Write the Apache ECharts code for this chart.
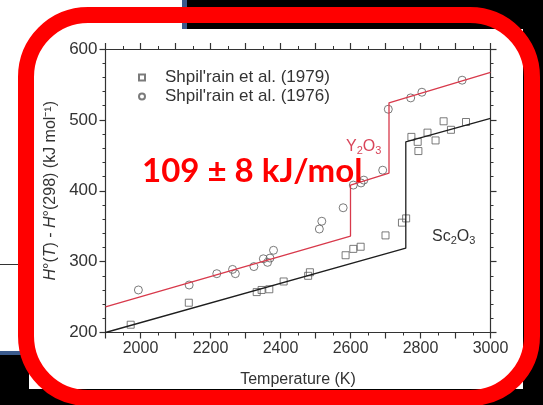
<!DOCTYPE html>
<html>
<head>
<meta charset="utf-8">
<script src="https://cdn.jsdelivr.net/npm/echarts@6/dist/echarts.min.js"></script>
<style>
  html, body { margin: 0; padding: 0; background: #fff; }
  #chart { width: 543px; height: 405px; }
</style>
</head>
<body>
<div id="chart"></div>
<script>
// Shpil'rain et al. (1979): Sc2O3 enthalpy increments
const sc1979T = [1972, 2138, 2332, 2346, 2368, 2409, 2479, 2484, 2586, 2608, 2629, 2700, 2747, 2759, 2774, 2792, 2794, 2820, 2843, 2866, 2887, 2930];
const sc1979H = [211, 242, 257, 260, 261, 272, 280, 285, 309, 318, 321, 337, 355, 361, 476, 469, 456, 482, 471, 498, 486, 497];

// Shpil'rain et al. (1976): Y2O3 enthalpy increments
const y1976T = [1994, 2139, 2218, 2263, 2271, 2324, 2351, 2363, 2370, 2380, 2511, 2518, 2579, 2608, 2630, 2638, 2692, 2708, 2772, 2804, 2919];
const y1976H = [260, 267, 283, 289, 283, 293, 304, 299, 305, 316, 346, 357, 376, 408, 411, 415, 429, 515, 531, 539, 556];

// Assessed enthalpy curves, with the transition and melting jumps
const y2o3FitT = [1900, 2600, 2600, 2710, 2710, 3000];
const y2o3FitH = [236, 336, 408, 425, 524, 567];
const sc2o3FitT = [1900, 2758, 2758, 3000];
const sc2o3FitH = [200, 319, 469, 502];

// Axis tick labels
const tempTicks = [2000, 2200, 2400, 2600, 2800, 3000];
const enthalpyTicks = [200, 300, 400, 500, 600];

const pairs = (xs, ys) => xs.map((x, i) => [x, ys[i]]);

const FONT = "'Liberation Sans', Arial, sans-serif";
const AXIS_COLOR = '#333';
const MARK_COLOR = '#5a5a5a';

const axisCommon = {
  axisLine: { show: true, onZero: false, lineStyle: { color: AXIS_COLOR, width: 1.2 } },
  axisTick: { show: true, inside: false, length: 6, lineStyle: { color: AXIS_COLOR, width: 1.2 } },
  minorTick: { show: true, length: 3, lineStyle: { color: AXIS_COLOR, width: 1 } },
  splitLine: { show: false }
};

const chart = echarts.init(document.getElementById('chart'), null, { renderer: 'canvas' });

chart.setOption({
  backgroundColor: '#fff',
  animation: false,
  textStyle: { fontFamily: FONT },
  grid: { left: 105.5, right: 52.5, top: 49, bottom: 72.5, containLabel: false },
  legend: {
    orient: 'vertical',
    left: 133,
    top: 64,
    itemWidth: 6,
    itemHeight: 6,
    itemGap: 2,
    data: ["Shpil'rain et al. (1979)", "Shpil'rain et al. (1976)"],
    textStyle: { fontSize: 17, color: '#333', fontFamily: FONT, lineHeight: 17, padding: [0, 0, 0, 15] }
  },
  xAxis: [
    Object.assign({}, axisCommon, {
      type: 'value', position: 'bottom', min: 1900, max: 3000, interval: 100,
      minorTick: Object.assign({}, axisCommon.minorTick, { splitNumber: 2 }),
      axisLabel: {
        customValues: tempTicks, fontSize: 16, color: AXIS_COLOR, margin: 8, fontFamily: FONT,
        formatter: v => String(v)
      },
      name: 'Temperature (K)', nameLocation: 'middle', nameGap: 39,
      nameTextStyle: { fontSize: 16, color: AXIS_COLOR, fontFamily: FONT }
    }),
    Object.assign({}, axisCommon, {
      type: 'value', position: 'top', min: 1900, max: 3000, interval: 100,
      minorTick: Object.assign({}, axisCommon.minorTick, { splitNumber: 2 }),
      axisLabel: { show: false }
    })
  ],
  yAxis: [
    Object.assign({}, axisCommon, {
      type: 'value', position: 'left', min: 200, max: 600, interval: 100,
      minorTick: Object.assign({}, axisCommon.minorTick, { splitNumber: 5 }),
      axisLabel: {
        customValues: enthalpyTicks, fontSize: 17, color: AXIS_COLOR, margin: 8, fontFamily: FONT,
        formatter: v => String(v)
      },
      name: '{i|H}°({i|T}) - {i|H}°(298) (kJ mol⁻¹)',
      nameLocation: 'middle', nameRotate: 90, nameGap: 46,
      nameTextStyle: {
        fontSize: 16, color: AXIS_COLOR, fontFamily: FONT,
        rich: { i: { fontStyle: 'italic', fontSize: 16, color: AXIS_COLOR, fontFamily: FONT } }
      }
    }),
    Object.assign({}, axisCommon, {
      type: 'value', position: 'right', min: 200, max: 600, interval: 100,
      minorTick: Object.assign({}, axisCommon.minorTick, { splitNumber: 5 }),
      axisLabel: { show: false }
    })
  ],
  series: [
    {
      name: 'Y2O3 fit', type: 'line', data: pairs(y2o3FitT, y2o3FitH),
      showSymbol: false, symbol: 'none', silent: true,
      lineStyle: { color: '#d8394b', width: 1.3 }
    },
    {
      name: 'Sc2O3 fit', type: 'line', data: pairs(sc2o3FitT, sc2o3FitH),
      showSymbol: false, symbol: 'none', silent: true,
      lineStyle: { color: '#1e1e1e', width: 1.3 }
    },
    {
      name: "Shpil'rain et al. (1979)", type: 'scatter', data: pairs(sc1979T, sc1979H),
      symbol: 'rect', symbolSize: 7,
      itemStyle: { color: 'rgba(255,255,255,0)', borderColor: MARK_COLOR, borderWidth: 1 }
    },
    {
      name: "Shpil'rain et al. (1976)", type: 'scatter', data: pairs(y1976T, y1976H),
      symbol: 'circle', symbolSize: 8,
      itemStyle: { color: 'rgba(255,255,255,0)', borderColor: MARK_COLOR, borderWidth: 1 }
    }
  ],
  graphic: [
    // slide backdrop around the figure
    { type: 'rect', z: -10, shape: { x: 186, y: 0, width: 357, height: 29 }, style: { fill: '#000' } },
    { type: 'rect', z: -10, shape: { x: 182, y: 0, width: 5, height: 29 }, style: { fill: '#3b5a8c' } },
    { type: 'rect', z: -10, shape: { x: 523, y: 0, width: 20, height: 405 }, style: { fill: '#000' } },
    { type: 'rect', z: -10, shape: { x: 0, y: 389, width: 543, height: 16 }, style: { fill: '#000' } },
    { type: 'rect', z: -10, shape: { x: 0, y: 355, width: 29, height: 50 }, style: { fill: '#000' } },
    { type: 'rect', z: -10, shape: { x: 0, y: 351, width: 29, height: 4 }, style: { fill: '#3b5a8c' } },
    { type: 'line', z: -10, shape: { x1: 0, y1: 264.5, x2: 20, y2: 264.5 }, style: { stroke: '#333', lineWidth: 1 } },
    // compound labels
    {
      type: 'text', z: 50, x: 346, y: 138,
      style: {
        text: '{a|Y}{s|2}{a|O}{s|3}',
        rich: {
          a: { fontSize: 16, fill: '#d9455a', fontFamily: FONT },
          s: { fontSize: 11, fill: '#d9455a', fontFamily: FONT, padding: [7, 0, 0, 0] }
        }
      }
    },
    {
      type: 'text', z: 50, x: 432, y: 228,
      style: {
        text: '{a|Sc}{s|2}{a|O}{s|3}',
        rich: {
          a: { fontSize: 16, fill: '#333', fontFamily: FONT },
          s: { fontSize: 11, fill: '#333', fontFamily: FONT, padding: [7, 0, 0, 0] }
        }
      }
    },
    // enthalpy of transition callout
    {
      type: 'text', z: 60, x: 142, y: 171,
      style: {
        text: '109 ± 8 kJ/mol',
        fill: '#ff0000',
        fontSize: 33, fontWeight: 'bold',
        fontFamily: "Lato, 'Open Sans', sans-serif",
        verticalAlign: 'middle', align: 'left'
      }
    },
    // red rounded frame
    {
      type: 'rect', z: 100,
      shape: { x: 26, y: 15, width: 506, height: 383, r: 62 },
      style: { fill: null, stroke: '#ff0000', lineWidth: 16 }
    }
  ]
});
</script>
</body>
</html>
